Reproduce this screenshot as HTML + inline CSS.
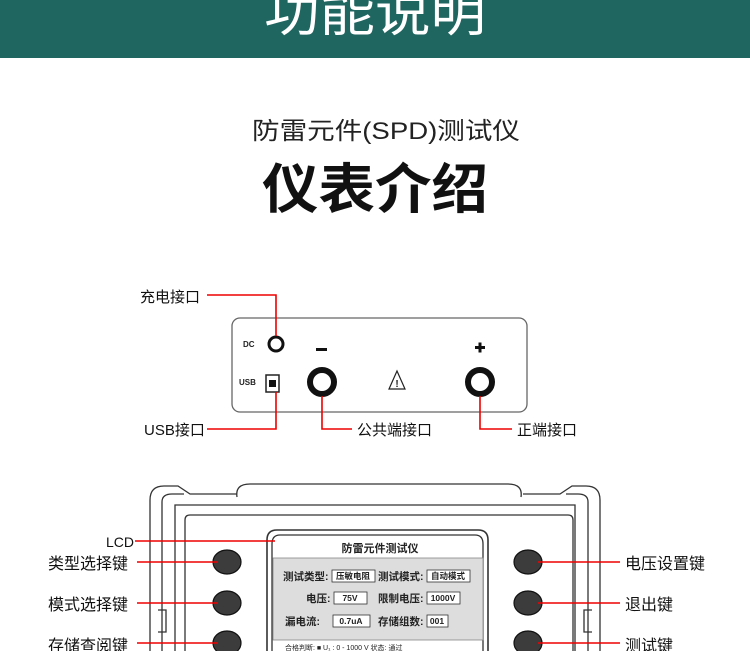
<!DOCTYPE html>
<html><head><meta charset="utf-8"><style>
html,body{margin:0;padding:0;background:#fff;width:750px;height:651px;overflow:hidden}
svg{display:block}
text{font-family:"Liberation Sans","Noto Sans CJK SC",sans-serif}
</style></head><body>
<svg width="750" height="651" viewBox="0 0 750 651" xmlns="http://www.w3.org/2000/svg">
<rect x="0" y="0" width="750" height="58" fill="#1f6560"/>
<text x="375" y="31" font-size="52" fill="#fff" text-anchor="middle" textLength="222" lengthAdjust="spacingAndGlyphs">功能说明</text>
<text x="252" y="139" font-size="24" fill="#222" textLength="268" lengthAdjust="spacingAndGlyphs">防雷元件(SPD)测试仪</text>
<text x="262" y="208" font-size="54" font-weight="bold" fill="#111" textLength="226" lengthAdjust="spacingAndGlyphs">仪表介绍</text>

<rect x="232" y="318" width="295" height="94" rx="8" fill="#fff" stroke="#666" stroke-width="1.3"/>
<text x="243" y="347" font-size="8" font-weight="bold" fill="#222">DC</text>
<circle cx="276" cy="344" r="7" fill="none" stroke="#111" stroke-width="3"/>
<text x="239" y="385" font-size="8" font-weight="bold" fill="#222">USB</text>
<rect x="266" y="375" width="13" height="17" fill="#fff" stroke="#222" stroke-width="1.5"/>
<rect x="269" y="380" width="7" height="7" fill="#111"/>
<rect x="316" y="348" width="11" height="3" fill="#111"/>
<circle cx="322" cy="382" r="12" fill="none" stroke="#111" stroke-width="6"/>
<path d="M397 371 L405 389 L389 389 Z" fill="none" stroke="#222" stroke-width="1.2"/>
<text x="397" y="387" font-size="10" text-anchor="middle" fill="#222" font-weight="bold">!</text>
<rect x="475" y="346" width="10" height="3" fill="#111"/><rect x="478.5" y="342.5" width="3" height="10" fill="#111"/>
<circle cx="480" cy="382" r="12" fill="none" stroke="#111" stroke-width="6"/>

<g stroke="#e00" stroke-width="1.6" fill="none">
<path d="M207 295 H276 V336"/>
<path d="M207 429 H276 V392"/>
<path d="M322 396 V429 H352"/>
<path d="M480 396 V429 H512"/>
</g>
<g font-size="15" fill="#111">
<text x="140" y="302">充电接口</text>
<text x="144" y="435">USB接口</text>
<text x="357" y="435">公共端接口</text>
<text x="517" y="435">正端接口</text>
</g>

<g fill="none" stroke="#333" stroke-width="1.3">
<path d="M150 651 V500 Q150 486 164 486 H178 L190 494 H237"/>
<path d="M162 651 V502 Q162 494 172 494 H184"/>
<path d="M600 651 V500 Q600 486 586 486 H572 L560 494 H523"/>
<path d="M588 651 V502 Q588 494 578 494 H566"/>
<path d="M237 497 Q235 484 250 484 H508 Q523 484 521 497"/>
<path d="M175 651 V505 H575 V651"/>
<path d="M185 651 V520 Q185 515 190 515 H568 Q573 515 573 520 V651"/>
<path d="M158 610 H166 V632 H158" />
<path d="M592 610 H584 V632 H592" />
<path d="M267 651 V540 Q267 530 277 530 H478 Q488 530 488 540 V651" stroke-width="1.6"/>
<path d="M272 651 V544 Q272 535 280 535 H475 Q483 535 483 544 V651"/>
</g>
<rect x="273" y="558" width="210" height="82" fill="#ddd" stroke="#888" stroke-width="0.8"/>
<text x="380" y="552" font-size="11" font-weight="bold" text-anchor="middle" fill="#222">防雷元件测试仪</text>
<g font-size="10.5" font-weight="bold" fill="#222">
<text x="283" y="580">测试类型:</text><text x="378" y="580">测试模式:</text>
<text x="306" y="602">电压:</text><text x="378" y="602">限制电压:</text>
<text x="285" y="625">漏电流:</text><text x="378" y="625">存储组数:</text>
</g>
<g fill="#fff" stroke="#333" stroke-width="0.8">
<rect x="332" y="570" width="43" height="12"/><rect x="427" y="570" width="43" height="12"/>
<rect x="334" y="592" width="33" height="12"/><rect x="427" y="592" width="33" height="12"/>
<rect x="333" y="615" width="37" height="12"/><rect x="427" y="615" width="21" height="12"/>
</g>
<g font-size="8.5" fill="#222" text-anchor="middle" font-weight="bold">
<text x="353" y="579">压敏电阻</text><text x="448" y="579">自动模式</text>
<text x="350" y="601">75V</text><text x="443" y="601">1000V</text>
<text x="351" y="624">0.7uA</text><text x="437" y="624">001</text>
</g>
<text x="285" y="650" font-size="7" fill="#222">合格判断: ■ U₁ : 0 - 1000 V    状态: 通过</text>

<g fill="#3c3c3c" stroke="#111" stroke-width="1.2">
<ellipse cx="227" cy="562" rx="14" ry="12"/><ellipse cx="227" cy="603" rx="14" ry="12"/><ellipse cx="227" cy="643" rx="14" ry="12"/>
<ellipse cx="528" cy="562" rx="14" ry="12"/><ellipse cx="528" cy="603" rx="14" ry="12"/><ellipse cx="528" cy="643" rx="14" ry="12"/>
</g>
<g stroke="#e00" stroke-width="1.6">
<line x1="135" y1="541" x2="275" y2="541"/>
<line x1="137" y1="562" x2="218" y2="562"/><line x1="137" y1="603" x2="218" y2="603"/><line x1="137" y1="643" x2="218" y2="643"/>
<line x1="538" y1="562" x2="620" y2="562"/><line x1="538" y1="603" x2="620" y2="603"/><line x1="538" y1="643" x2="620" y2="643"/>
</g>
<g font-size="16" fill="#111">
<text x="106" y="547" font-size="14">LCD</text>
<text x="48" y="569">类型选择键</text>
<text x="48" y="610">模式选择键</text>
<text x="48" y="651">存储查阅键</text>
<text x="625" y="569">电压设置键</text>
<text x="625" y="610">退出键</text>
<text x="625" y="651">测试键</text>
</g>
</svg>
</body></html>
